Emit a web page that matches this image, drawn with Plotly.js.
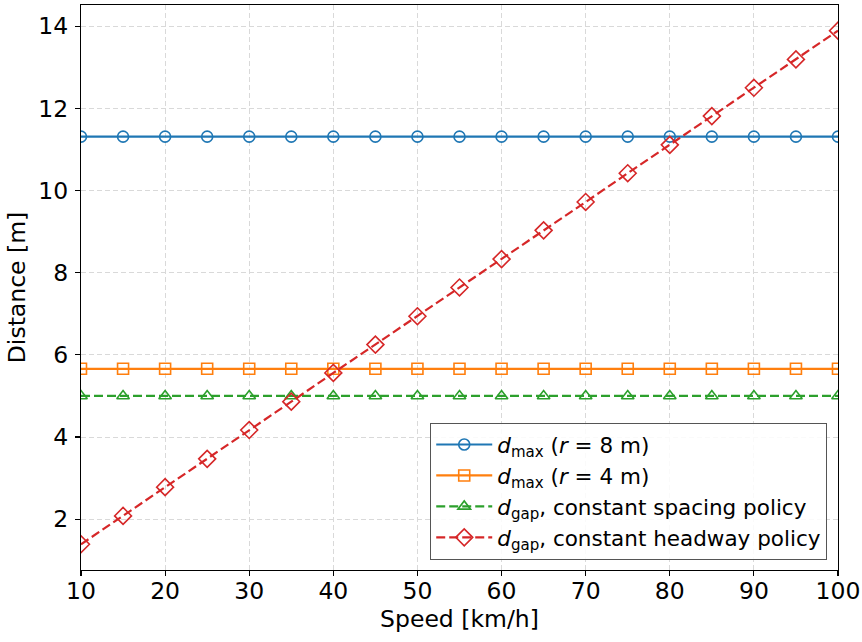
<!DOCTYPE html>
<html>
<head>
<meta charset="utf-8">
<script src="https://cdn.plot.ly/plotly-3.0.1.min.js"></script>
<style>
  html, body { margin: 0; padding: 0; background: #fff; }
  #chart { width: 862px; height: 642px; }
</style>
</head>
<body>
<div id="chart"></div>
<script>
// Speed samples [km/h]
const speed = [10, 15, 20, 25, 30, 35, 40, 45, 50, 55, 60, 65, 70, 75, 80, 85, 90, 95, 100];

// Distances [m]
const dmaxR8 = [11.31, 11.31, 11.31, 11.31, 11.31, 11.31, 11.31, 11.31, 11.31, 11.31,
                11.31, 11.31, 11.31, 11.31, 11.31, 11.31, 11.31, 11.31, 11.31];
const dmaxR4 = [5.66, 5.66, 5.66, 5.66, 5.66, 5.66, 5.66, 5.66, 5.66, 5.66,
                5.66, 5.66, 5.66, 5.66, 5.66, 5.66, 5.66, 5.66, 5.66];
const dgapSpacing = [5.0, 5.0, 5.0, 5.0, 5.0, 5.0, 5.0, 5.0, 5.0, 5.0,
                     5.0, 5.0, 5.0, 5.0, 5.0, 5.0, 5.0, 5.0, 5.0];
const dgapHeadway = [1.39, 2.08, 2.78, 3.47, 4.17, 4.86, 5.56, 6.25, 6.94, 7.64,
                     8.33, 9.03, 9.72, 10.42, 11.11, 11.81, 12.50, 13.19, 13.89];

const names = [
  '<i>d</i><sub>max</sub> (<i>r</i> = 8 m)',
  '<i>d</i><sub>max</sub> (<i>r</i> = 4 m)',
  '<i>d</i><sub>gap</sub>, constant spacing policy',
  '<i>d</i><sub>gap</sub>, constant headway policy'
];

const xTicks = [10, 20, 30, 40, 50, 60, 70, 80, 90, 100];
const yTicks = [2, 4, 6, 8, 10, 12, 14];

function series(y, name, color, symbol, dash) {
  return {
    x: speed, y: y, name: name, type: 'scatter', mode: 'lines+markers',
    line: { color: color, width: 2.2, dash: dash },
    marker: { symbol: symbol, size: symbol === 'diamond-open' ? 13 : 11,
              color: color, line: { color: color, width: 1.6 } }
  };
}

const traces = [
  series(dmaxR8, names[0], '#1f77b4', 'circle-open', 'solid'),
  series(dmaxR4, names[1], '#ff7f0e', 'square-open', 'solid'),
  series(dgapSpacing, names[2], '#2ca02c', 'triangle-up-open', '9px,4px'),
  series(dgapHeadway, names[3], '#d62728', 'diamond-open', '9px,4px')
];

const FAMILY = 'DejaVu Sans, sans-serif';
const tickFont = { family: FAMILY, size: 23.5, color: '#000' };
const titleFont = { family: FAMILY, size: 23.5, color: '#000' };

const layout = {
  width: 862, height: 642,
  margin: { l: 81, r: 24, t: 5, b: 72 },
  paper_bgcolor: '#fff', plot_bgcolor: '#fff',
  font: { family: FAMILY, color: '#000' },
  showlegend: true,
  legend: {
    x: 0.9855, y: 0.018, xanchor: 'right', yanchor: 'bottom',
    bgcolor: 'rgba(255,255,255,0.85)', bordercolor: '#555', borderwidth: 1.2,
    font: { family: FAMILY, size: 21.5, color: '#000' },
    tracegroupgap: 0, itemwidth: 56
  },
  xaxis: {
    range: [10, 100], tickvals: xTicks, ticktext: xTicks.map(String),
    ticks: 'outside', ticklen: 5, tickwidth: 1.2, tickcolor: '#000',
    tickfont: tickFont, ticklabelstandoff: -5,
    showgrid: true, gridcolor: '#d9d9d9', griddash: '5px,3px', gridwidth: 1,
    zeroline: false, showline: true, linecolor: '#000', linewidth: 1.2, mirror: true,
    title: { text: 'Speed [km/h]', font: titleFont, standoff: 2 }
  },
  yaxis: {
    range: [0.764, 14.514], tickvals: yTicks, ticktext: yTicks.map(String),
    ticks: 'outside', ticklen: 5, tickwidth: 1.2, tickcolor: '#000',
    tickfont: tickFont, ticklabelstandoff: 2,
    showgrid: true, gridcolor: '#d9d9d9', griddash: '5px,3px', gridwidth: 1,
    zeroline: false, showline: true, linecolor: '#000', linewidth: 1.2, mirror: true,
    title: { text: 'Distance [m]', font: titleFont, standoff: 6 }
  }
};

Plotly.newPlot('chart', traces, layout, { displayModeBar: false, staticPlot: true });
</script>
</body>
</html>
